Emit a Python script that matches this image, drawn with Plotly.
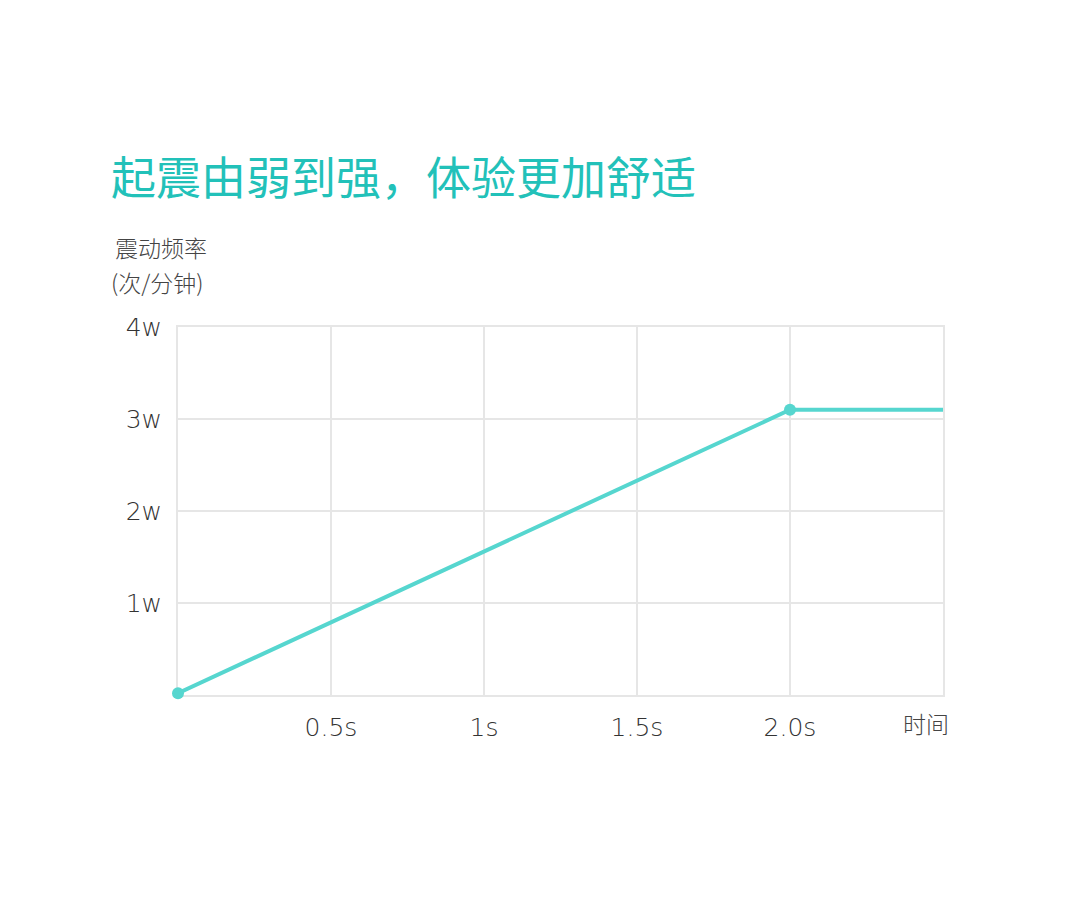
import plotly.graph_objects as go

# data
time_s = [0.0, 2.0, 2.5]
freq = [200, 31000, 31000]
marker_time = [0.0, 2.0]
marker_freq = [200, 31000]

x_tickvals = [0.5, 1.0, 1.5, 2.0]
x_ticktext = ["0.5s", "1s", "1.5s", "2.0s"]
y_tickvals = [10000, 20000, 30000, 40000]
y_ticktext = ["1w", "2w", "3w", "4w"]

teal_line = "#56d6cf"
teal_title = "#22c1b9"
grid = "#e6e6e6"
text_grey = "#444444"
tick_font = dict(family="'DejaVu Sans', sans-serif", weight=200, size=25, color="#333333")
cjk = "'Noto Sans CJK SC', sans-serif"
label_font = dict(family=cjk, weight=300, size=23, color=text_grey)

fig = go.Figure()
fig.add_trace(go.Scatter(x=time_s, y=freq, mode="lines",
                         line=dict(color=teal_line, width=4),
                         hoverinfo="skip", showlegend=False))
fig.add_trace(go.Scatter(x=marker_time, y=marker_freq, mode="markers",
                         marker=dict(color=teal_line, size=12),
                         cliponaxis=False, showlegend=False))

# the page sits about 7px right/down, so margins are nudged to match
fig.update_layout(
    width=1080, height=897,
    margin=dict(l=170, r=145, t=319, b=210),
    paper_bgcolor="white", plot_bgcolor="white",
    font=dict(family=cjk, color=text_grey, size=22),
    title=dict(text="起震由弱到强，体验更加舒适",
               font=dict(family=cjk, size=45, color=teal_title),
               xref="container", yref="container",
               x=103/1080, y=1-171/897, xanchor="left", yanchor="middle"),
    xaxis=dict(range=[0, 2.5], tickvals=x_tickvals, ticktext=x_ticktext,
               showgrid=True, gridcolor=grid, gridwidth=2,
               showline=True, linecolor=grid, linewidth=2, mirror=True,
               layer="below traces",
               zeroline=False, ticks="outside", ticklen=9, tickcolor="rgba(0,0,0,0)",
               tickfont=tick_font),
    yaxis=dict(range=[0, 40000], tickvals=y_tickvals, ticktext=y_ticktext,
               showgrid=True, gridcolor=grid, gridwidth=2,
               showline=True, linecolor=grid, linewidth=2, mirror=True,
               layer="below traces",
               zeroline=False, ticks="outside", ticklen=9, tickcolor="rgba(0,0,0,0)",
               tickfont=tick_font),
    annotations=[
        dict(text="震动频率", xref="paper", yref="paper",
             x=(105-170)/765, y=(694-246)/368, xanchor="left", yanchor="middle",
             showarrow=False, font=label_font),
        dict(text="(次/分钟)", xref="paper", yref="paper",
             x=(101-170)/765, y=(694-281)/368, xanchor="left", yanchor="middle",
             showarrow=False, font=label_font),
        dict(text="时间", xref="paper", yref="paper",
             x=(918-170)/765, y=(694-722)/368, xanchor="center", yanchor="middle",
             showarrow=False, font=label_font),
    ],
)

fig.write_html("out.html")
